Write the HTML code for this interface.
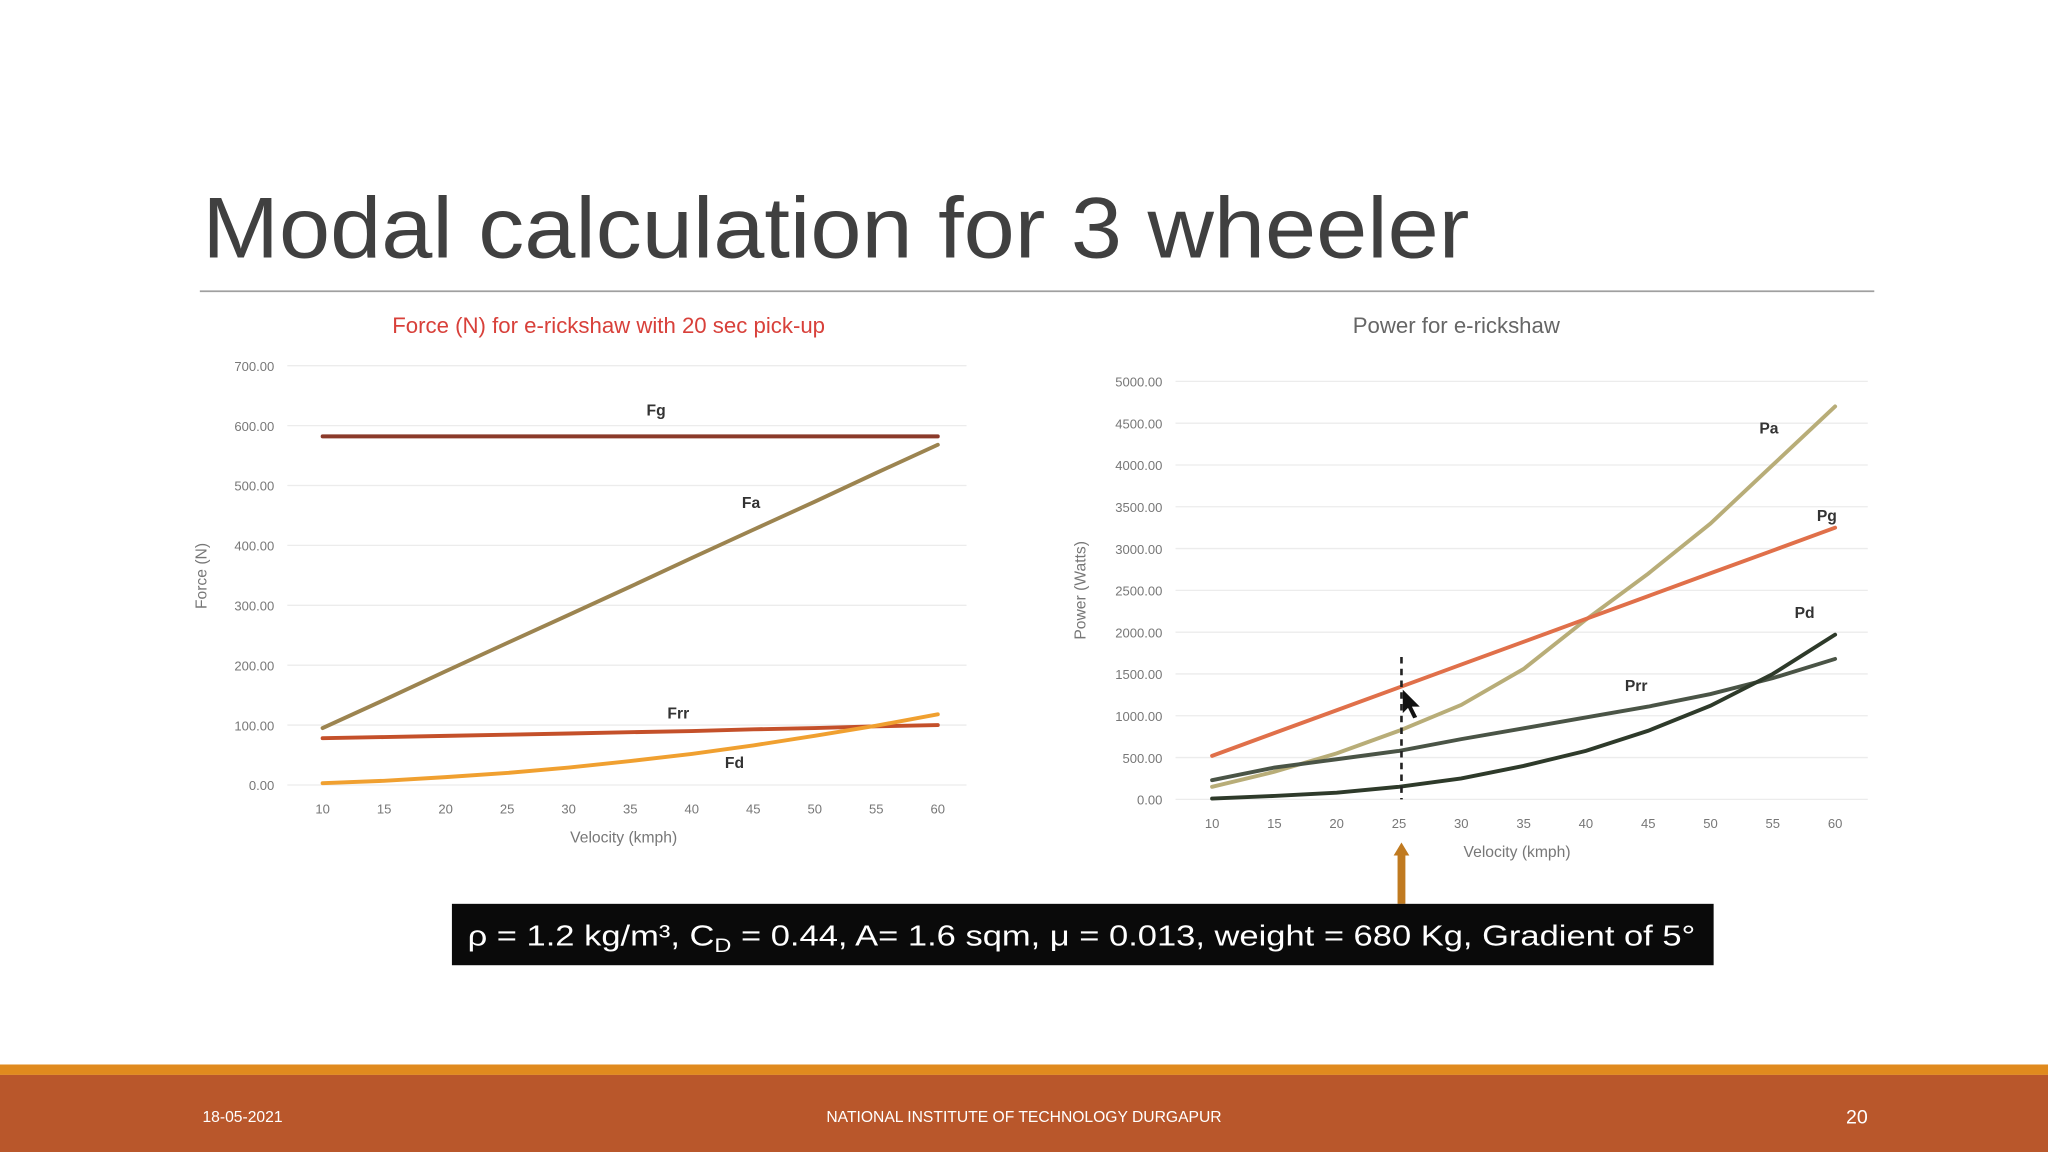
<!DOCTYPE html>
<html><head><meta charset="utf-8">
<style>
html,body{margin:0;padding:0;background:#fff;}
svg{display:block;font-family:"Liberation Sans",sans-serif;}
</style></head>
<body>
<svg id="s" width="2048" height="1152" viewBox="0 0 1568 882" xmlns="http://www.w3.org/2000/svg">
<rect width="1568" height="882" fill="#fff"/>
<text x="155" y="197" font-size="66" fill="#404040" textLength="970" lengthAdjust="spacingAndGlyphs">Modal calculation for 3 wheeler</text>
<line x1="153" y1="223" x2="1435" y2="223" stroke="#a0a0a0" stroke-width="1.3"/>
<text x="466" y="255" font-size="17" fill="#d8403a" text-anchor="middle">Force (N) for e-rickshaw with 20 sec pick-up</text>
<text x="1115" y="255" font-size="17" fill="#666" text-anchor="middle">Power for e-rickshaw</text>
<g id="left"></g>
<g id="right"></g>
<line x1="1073" y1="503" x2="1073" y2="612" stroke="#222" stroke-width="2" stroke-dasharray="5,4"/>
<path d="M1074 528 L1074 546 L1078 542 L1082 550 L1085 549 L1081 541 L1087 541 Z" fill="#111"/>
<rect x="1070" y="650" width="6" height="42" fill="#c07a20"/>
<path d="M1067 655 L1073 645 L1079 655 Z" fill="#c07a20"/>
<rect x="346" y="692" width="966" height="47" fill="#0a0a0a"/>
<text x="358" y="724" font-size="22" fill="#fff" textLength="940" lengthAdjust="spacingAndGlyphs">ρ = 1.2 kg/m³, C<tspan font-size="15" dy="5">D</tspan><tspan dy="-5"> = 0.44, A= 1.6 sqm, μ = 0.013, weight = 680 Kg, Gradient of 5°</tspan></text>
<rect x="0" y="815" width="1568" height="8" fill="#e08a1e"/>
<rect x="0" y="823" width="1568" height="59" fill="#b9572b"/>
<text x="155" y="859" font-size="12" fill="#fff">18-05-2021</text>
<text x="784" y="859" font-size="12" fill="#fff" text-anchor="middle">NATIONAL INSTITUTE OF TECHNOLOGY DURGAPUR</text>
<text x="1430" y="860" font-size="15" fill="#fff" text-anchor="end">20</text>
</svg>
<script>
const velocities=[10,15,20,25,30,35,40,45,50,55,60];
const forceTicks=[0,100,200,300,400,500,600,700];
const Fg=[582,582,582,582,582,582,582,582,582,582,582];
const Fa=[95,142,190,237,284,331,379,426,473,521,568];
const Frr=[78,80,82,84,86,88,90,93,95,98,100];
const Fd=[3,7,13,20,29,40,52,66,82,99,118];
const powerTicks=[0,500,1000,1500,2000,2500,3000,3500,4000,4500,5000];
const Pa=[150,330,550,820,1130,1560,2150,2700,3300,4000,4700];
const Pg=[520,793,1066,1339,1612,1885,2158,2431,2704,2977,3250];
const Prr=[230,380,480,580,720,850,980,1110,1260,1450,1680];
const Pd=[10,40,80,150,250,400,580,820,1120,1500,1970];

const NS="http://www.w3.org/2000/svg";
function mk(p,t,a){const e=document.createElementNS(NS,t);for(const k in a)e.setAttribute(k,a[k]);p.appendChild(e);return e;}
function chart(g,cfg){
  const xs=v=>cfg.x0+(v-10)/50*(cfg.x1-cfg.x0);
  const ys=v=>cfg.y0-v/cfg.ymax*(cfg.y0-cfg.y1);
  cfg.ticks.forEach(t=>{
    const l=mk(g,'line',{x1:cfg.gx0,x2:cfg.gx1,y1:ys(t),y2:ys(t),stroke:'#ececec','stroke-width':1});
    
    
    const tx=mk(g,'text',{x:cfg.lx,y:ys(t)+4,'font-size':10,fill:'#777','text-anchor':'end'});
    tx.textContent=t.toFixed(2);
    
    
  });
  velocities.forEach(v=>{
    const tx=mk(g,'text',{x:xs(v),y:cfg.xly,'font-size':10,fill:'#777','text-anchor':'middle'});
    tx.textContent=v;
    
    
  });
  const xt=mk(g,'text',{x:(cfg.x0+cfg.x1)/2-5,y:cfg.xly+22,'font-size':12,fill:'#777','text-anchor':'middle'});
  xt.textContent='Velocity (kmph)';
  
  
  const yt=mk(g,'text',{x:0,y:0,'font-size':12,fill:'#777','text-anchor':'middle',transform:`translate(${cfg.ytx},${cfg.yty}) rotate(-90)`});
  yt.textContent=cfg.ytitle;
  
  
  cfg.series.forEach(s=>{
    const d=s.data.map((v,i)=>(i?'L':'M')+xs(velocities[i]).toFixed(1)+' '+ys(v).toFixed(1)).join(' ');
    const p=mk(g,'path',{d:d,fill:'none',stroke:s.color,'stroke-width':3,'stroke-linecap':'round'});
    
    
    const lb=mk(g,'text',{x:s.lx,y:s.ly,'font-size':12,'font-weight':'bold',fill:'#333'});
    lb.textContent=s.name;
    
    
  });
}
chart(document.getElementById('left'),{x0:247,x1:718,y0:601,y1:280,ymax:700,gx0:220,gx1:740,lx:210,xly:623,ytx:158,yty:441,ytitle:'Force (N)',ticks:forceTicks,
 series:[{name:'Fg',data:Fg,color:'#8b3a2a',lx:495,ly:318},{name:'Fa',data:Fa,color:'#9c8450',lx:568,ly:389},{name:'Frr',data:Frr,color:'#c4502a',lx:511,ly:550},{name:'Fd',data:Fd,color:'#f0a030',lx:555,ly:588}]});
chart(document.getElementById('right'),{x0:928,x1:1405,y0:612,y1:292,ymax:5000,gx0:900,gx1:1430,lx:890,xly:634,ytx:831,yty:452,ytitle:'Power (Watts)',ticks:powerTicks,
 series:[{name:'Pa',data:Pa,color:'#b8ad78',lx:1347,ly:332},{name:'Pg',data:Pg,color:'#e0704a',lx:1391,ly:399},{name:'Prr',data:Prr,color:'#4a5446',lx:1244,ly:529},{name:'Pd',data:Pd,color:'#2e3a2a',lx:1374,ly:473}]});
</script>
</body></html>
